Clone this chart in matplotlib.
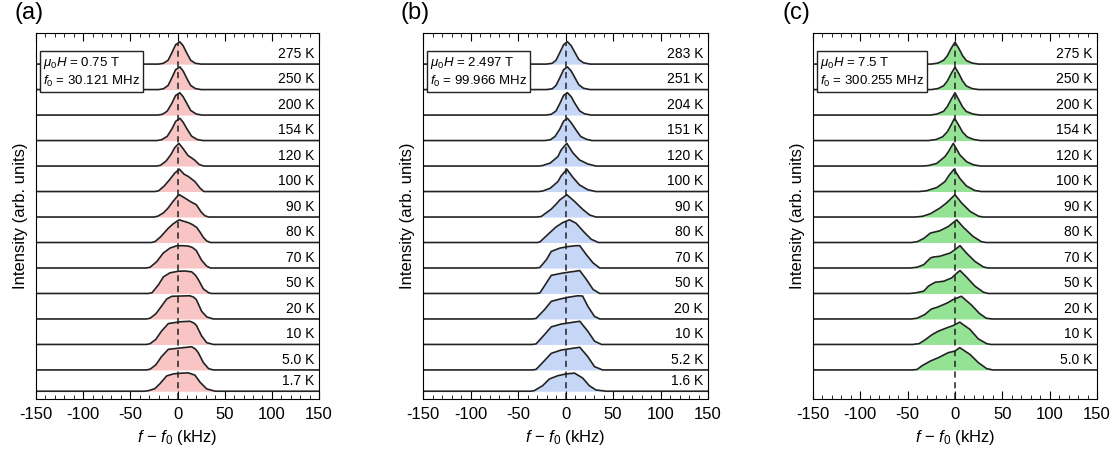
import matplotlib
matplotlib.use('Agg')
import matplotlib.pyplot as plt
from matplotlib.ticker import MultipleLocator
import numpy as np

plt.rcParams['font.family'] = ['Liberation Sans', 'DejaVu Sans']
plt.rcParams['mathtext.fontset'] = 'custom'
plt.rcParams['mathtext.rm'] = 'Liberation Sans'
plt.rcParams['mathtext.it'] = 'Liberation Sans:italic'
plt.rcParams['axes.unicode_minus'] = False

# ---- panel (a): 0.75 T ----
a_temps = ['275 K', '250 K', '200 K', '154 K', '120 K', '100 K', '90 K', '80 K',
           '70 K', '50 K', '20 K', '10 K', '5.0 K', '1.7 K']
a_x = [
    [-20, -15, -10, -6, -2, 2.5, 6, 10, 14, 19, 25],
    [-20, -15, -10, -6, -2, 2.5, 6, 10, 14, 19, 25],
    [-21, -16, -11, -6, -2, 2.5, 6, 10, 14, 20, 26],
    [-22, -17, -11, -6, -2, 2.5, 6, 10, 15, 21, 27],
    [-22, -18, -12, -7, -3, 1.5, 6, 11, 18, 23, 28],
    [-24, -20, -14, -8, -3, 2, 7, 11.5, 18.5, 24, 28],
    [-25, -21, -15, -10, -5, 0, 2, 8, 14, 20, 25, 29, 33],
    [-28, -24, -18, -10, -5, 0, 2, 6, 11.5, 16, 20.4, 24, 27.4, 31, 35],
    [-33, -29, -22, -15, -8, -1, 5, 11.5, 16, 20, 25.6, 31, 35],
    [-31, -27, -20, -15, -8, 1, 8, 15, 19, 22, 27.4, 33, 36],
    [-33, -29, -23, -17, -11.5, -6, 3, 13, 17, 20, 25.6, 31, 38],
    [-33, -29, -23, -17, -9.7, 2.6, 13, 17, 20, 25.6, 31, 38],
    [-33, -29, -23, -17, -9.7, 2.6, 15, 19, 22, 27.4, 33, 38],
    [-35, -31, -24, -18.5, -11.5, -4.4, 5, 11.5, 18.5, 24, 31, 40],
]
a_y = [
    [0, 0.03, 0.15, 0.44, 0.76, 0.875, 0.72, 0.42, 0.15, 0.03, 0],
    [0, 0.03, 0.16, 0.46, 0.78, 0.89, 0.73, 0.43, 0.16, 0.04, 0],
    [0, 0.03, 0.15, 0.46, 0.77, 0.875, 0.72, 0.45, 0.18, 0.04, 0],
    [0, 0.03, 0.16, 0.45, 0.75, 0.875, 0.72, 0.46, 0.17, 0.04, 0],
    [0, 0.03, 0.2, 0.45, 0.72, 0.89, 0.68, 0.42, 0.24, 0.06, 0],
    [0, 0.03, 0.22, 0.48, 0.72, 0.875, 0.68, 0.59, 0.39, 0.13, 0],
    [0, 0.03, 0.16, 0.35, 0.6, 0.82, 0.875, 0.74, 0.6, 0.48, 0.2, 0.05, 0],
    [0, 0.03, 0.22, 0.55, 0.72, 0.85, 0.89, 0.84, 0.78, 0.7, 0.59, 0.4, 0.2, 0.06, 0],
    [0, 0.03, 0.25, 0.59, 0.78, 0.87, 0.875, 0.86, 0.8, 0.68, 0.3, 0.07, 0],
    [0, 0.03, 0.35, 0.65, 0.81, 0.875, 0.88, 0.85, 0.72, 0.55, 0.18, 0.03, 0],
    [0, 0.03, 0.2, 0.5, 0.78, 0.89, 0.9, 0.91, 0.86, 0.76, 0.3, 0.08, 0],
    [0, 0.03, 0.2, 0.52, 0.82, 0.89, 0.91, 0.85, 0.75, 0.33, 0.07, 0],
    [0, 0.03, 0.2, 0.52, 0.81, 0.86, 0.91, 0.82, 0.68, 0.29, 0.05, 0],
    [0, 0.02, 0.1, 0.3, 0.6, 0.68, 0.71, 0.72, 0.63, 0.35, 0.09, 0],
]

# ---- panel (b): 2.497 T ----
b_temps = ['283 K', '251 K', '204 K', '151 K', '120 K', '100 K', '90 K', '80 K',
           '70 K', '50 K', '20 K', '10 K', '5.2 K', '1.6 K']
b_x = [
    [-20, -14, -10, -6, -2, 2, 6, 10, 14, 19, 26],
    [-20, -14, -10, -6, -2, 2, 6, 10, 14, 19, 26],
    [-21, -15, -10, -6, -2, 2, 6, 10, 15, 20, 27],
    [-22, -16, -11, -6, -2, 2, 6, 11, 16, 22, 28],
    [-28, -24, -16, -8, -4.6, 1.4, 7.7, 14.7, 23.5, 32],
    [-28, -24, -16, -8, -4.6, 1.4, 7.7, 14.7, 23.5, 32],
    [-30, -25.6, -15, -10, -6, 1.4, 9.6, 18.4, 25.4, 32],
    [-30, -27, -17, -10, -3, 4.2, 11, 20, 27, 34.6],
    [-31, -27, -20, -15, -6, 2.6, 11, 15, 22, 29, 36],
    [-31, -27, -20, -15, -6, 4, 10, 15, 22, 29, 36],
    [-35, -31, -22, -15, -6, 4, 13, 18, 23.5, 30.5, 36],
    [-35, -31, -22, -15, -4.6, 6, 15, 23.5, 30.5, 38],
    [-35, -31, -22, -15, -4.6, 6, 15, 23.5, 30.5, 39],
    [-37, -33, -24, -17, -8, 0.7, 9.5, 18, 25, 32, 43],
]
b_y = [
    [0, 0.03, 0.15, 0.45, 0.76, 0.88, 0.72, 0.45, 0.18, 0.05, 0],
    [0, 0.03, 0.16, 0.46, 0.78, 0.89, 0.73, 0.46, 0.19, 0.05, 0],
    [0, 0.03, 0.16, 0.45, 0.77, 0.88, 0.72, 0.45, 0.16, 0.05, 0],
    [0, 0.03, 0.16, 0.45, 0.76, 0.875, 0.7, 0.42, 0.16, 0.05, 0],
    [0, 0.02, 0.12, 0.37, 0.63, 0.89, 0.52, 0.24, 0.08, 0],
    [0, 0.02, 0.13, 0.39, 0.61, 0.875, 0.56, 0.26, 0.07, 0],
    [0, 0.02, 0.31, 0.5, 0.67, 0.875, 0.61, 0.29, 0.08, 0],
    [0, 0.02, 0.37, 0.61, 0.78, 0.89, 0.76, 0.39, 0.13, 0],
    [0, 0.02, 0.33, 0.65, 0.78, 0.84, 0.875, 0.875, 0.52, 0.2, 0],
    [0, 0.02, 0.42, 0.71, 0.78, 0.84, 0.87, 0.9, 0.55, 0.16, 0],
    [0, 0.02, 0.37, 0.69, 0.78, 0.86, 0.91, 0.9, 0.5, 0.1, 0],
    [0, 0.02, 0.39, 0.69, 0.8, 0.86, 0.91, 0.52, 0.13, 0],
    [0, 0.02, 0.37, 0.65, 0.78, 0.84, 0.89, 0.52, 0.13, 0],
    [0, 0.02, 0.22, 0.48, 0.61, 0.68, 0.71, 0.52, 0.22, 0.05, 0],
]

# ---- panel (c): 7.5 T ----
c_temps = ['275 K', '250 K', '200 K', '154 K', '120 K', '100 K', '90 K', '80 K',
           '70 K', '50 K', '20 K', '10 K', '5.0 K']
c_x = [
    [-25, -18, -12, -8, -4, 0, 4, 8, 12, 18, 25],
    [-25, -18, -12, -8, -4, 0, 4, 8, 12, 18, 25],
    [-26, -19, -12, -8, -4, 0, 4, 8, 12, 19, 26],
    [-28, -20, -13, -8, -4, -0.5, 4, 8, 13, 20, 27],
    [-34, -28, -19.4, -10.6, -7, -1.8, 5.3, 12.3, 19.4, 27],
    [-38, -30, -19, -10.6, -6, -1, 5, 12, 21, 28],
    [-42, -34, -26, -16, -9, 0, 7, 16, 25, 30],
    [-46, -40, -33, -26, -16, -7, 1.8, 9, 19, 28, 33],
    [-47, -40, -33, -26, -23, -16, -5, 0, 5.3, 12, 21, 30, 35],
    [-48, -42, -33, -28, -21, -12, -3.5, 2, 5.3, 12, 21, 30, 35],
    [-46, -40, -32, -25, -18, -8, -2, 6.7, 17, 26, 33, 39],
    [-45, -38, -32, -24, -17.6, -8.8, -2, 5, 15.8, 24.6, 33.5, 38],
    [-45, -40, -35, -26, -17.6, -7, 0, 5, 15.8, 24.6, 33.5, 40],
]
c_y = [
    [0, 0.04, 0.15, 0.33, 0.62, 0.86, 0.62, 0.33, 0.14, 0.04, 0],
    [0, 0.04, 0.15, 0.34, 0.63, 0.88, 0.63, 0.34, 0.14, 0.04, 0],
    [0, 0.04, 0.15, 0.34, 0.62, 0.875, 0.6, 0.32, 0.14, 0.04, 0],
    [0, 0.04, 0.15, 0.35, 0.62, 0.875, 0.6, 0.33, 0.14, 0.04, 0],
    [0, 0.02, 0.1, 0.37, 0.56, 0.89, 0.43, 0.17, 0.05, 0],
    [0, 0.03, 0.16, 0.39, 0.65, 0.875, 0.52, 0.22, 0.04, 0],
    [0, 0.03, 0.13, 0.35, 0.55, 0.875, 0.55, 0.22, 0.03, 0],
    [0, 0.03, 0.16, 0.37, 0.46, 0.63, 0.89, 0.59, 0.24, 0.03, 0],
    [0, 0.03, 0.13, 0.39, 0.43, 0.46, 0.59, 0.72, 0.875, 0.59, 0.26, 0.04, 0],
    [0, 0.02, 0.09, 0.29, 0.44, 0.48, 0.61, 0.8, 0.9, 0.65, 0.29, 0.05, 0],
    [0, 0.03, 0.17, 0.39, 0.47, 0.63, 0.76, 0.89, 0.56, 0.21, 0.03, 0],
    [0, 0.03, 0.17, 0.39, 0.52, 0.65, 0.74, 0.875, 0.59, 0.22, 0.03, 0],
    [0, 0.02, 0.16, 0.35, 0.48, 0.68, 0.74, 0.875, 0.61, 0.29, 0.05, 0],
]

info = [r'$\mu_0H$ = 0.75 T' + '\n' + r'$f_0$ = 30.121 MHz',
        r'$\mu_0H$ = 2.497 T' + '\n' + r'$f_0$ = 99.966 MHz',
        r'$\mu_0H$ = 7.5 T' + '\n' + r'$f_0$ = 300.255 MHz']
letters = ['(a)', '(b)', '(c)']
fills = ['#f8c4c4', '#c6d6f6', '#94e294']

fig = plt.figure(figsize=(11.2, 4.62), dpi=100)
lefts = [36 / 1120, 423 / 1120, 813 / 1120]
widths = [283 / 1120, 285 / 1120, 284 / 1120]
letter_x = [15 / 1120, 401 / 1120, 782 / 1120]
bot = 63 / 462
hgt = 366 / 462

panels = [(a_temps, a_x, a_y), (b_temps, b_x, b_y), (c_temps, c_x, c_y)]
for k, (temps, xs, ys) in enumerate(panels):
    ax = fig.add_axes([lefts[k], bot, widths[k], hgt])
    n = len(temps)
    # row spacing is 1; the very last trace in (a)/(b) sits a bit closer
    steps = [1.0] * min(n - 1, 12) + [0.835] * (n - 1 - min(n - 1, 12))
    offs = -np.concatenate([[0], np.cumsum(steps)])
    for i in range(n):
        x = np.r_[-150, xs[i], 150]
        y = np.r_[0, ys[i], 0] + offs[i]
        ax.fill_between(x, offs[i], y, color=fills[k], lw=0, zorder=1)
        ax.plot(x, y, color='#222222', lw=1.2, zorder=2)
        ax.text(145, offs[i] + 0.4, temps[i], ha='right', va='center', fontsize=10)
    ax.plot([0, 0], [-13.14, 0.84], color='#222222', lw=1.1, ls=(0, (4, 3)), zorder=3)
    ax.set_xlim(-150, 150)
    ax.set_ylim(-13.14, 1.22)
    ax.xaxis.set_major_locator(MultipleLocator(50))
    ax.xaxis.set_minor_locator(MultipleLocator(10))
    ax.tick_params(axis='x', which='both', direction='in', top=True, labelsize=12, pad=6)
    ax.tick_params(axis='x', which='major', length=6)
    ax.tick_params(axis='x', which='minor', length=3)
    ax.set_yticks([])
    ax.set_xlabel(r'$f$ − $f_0$ (kHz)', fontsize=12, labelpad=4)
    ax.set_ylabel('Intensity (arb. units)', fontsize=12, labelpad=6)
    ax.text(0.025, 0.94, info[k], transform=ax.transAxes, ha='left', va='top',
            fontsize=9.5, linespacing=1.3, zorder=5,
            bbox=dict(boxstyle='square,pad=0.22', fc='white', ec='#222222', lw=1))
    fig.text(letter_x[k], 1 - 13 / 462, letters[k], fontsize=17, ha='left', va='center')

fig.savefig('out.png', dpi=100)
